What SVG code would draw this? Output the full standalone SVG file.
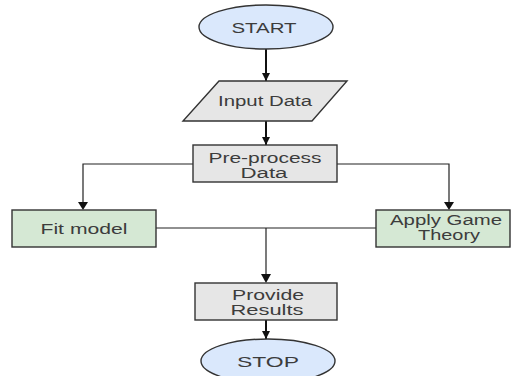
<svg xmlns="http://www.w3.org/2000/svg" width="512" height="376" viewBox="0 0 512 376">
  <defs>
    <marker id="arrow" viewBox="0 0 10 10" refX="10" refY="5" markerWidth="4.2" markerHeight="4.2" orient="auto" markerUnits="strokeWidth">
      <path d="M0,0 L10,5 L0,10 z" fill="#111"/>
    </marker>
    <style>
      .term { fill: #dae8fc; stroke: #333; stroke-width: 1.4; }
      .proc { fill: #e6e6e6; stroke: #333; stroke-width: 1.4; }
      .task { fill: #d5e8d4; stroke: #333; stroke-width: 1.4; }
      .label { font-family: "Liberation Sans", Arial, sans-serif; font-size: 14px; fill: #3c3c3c; text-anchor: middle; }
      .flow { fill: none; stroke: #111; stroke-width: 2; }
      .link { fill: none; stroke: #222; stroke-width: 1.2; }
    </style>
  </defs>

  <rect width="512" height="376" fill="#ffffff"/>

  <!-- connectors -->
  <g id="connectors">
    <line class="flow" x1="266" y1="49" x2="266" y2="81" marker-end="url(#arrow)"/>
    <line class="flow" x1="266" y1="121" x2="266" y2="145" marker-end="url(#arrow)"/>
    <polyline class="link" points="193,164 83,164 83,202"/>
    <path d="M78,202 L88,202 L83,210 z" fill="#111"/>
    <polyline class="link" points="337,164 449,164 449,202"/>
    <path d="M444,202 L454,202 L449,210 z" fill="#111"/>
    <line class="link" x1="156" y1="228" x2="376" y2="228"/>
    <line class="link" x1="266" y1="228" x2="266" y2="274"/>
    <path d="M261,274 L271,274 L266,283 z" fill="#111"/>
    <line class="flow" x1="266" y1="320" x2="266" y2="339" marker-end="url(#arrow)"/>
  </g>

  <!-- nodes (labels are drawn wide, stretched to fixed lengths) -->
  <g id="start">
    <ellipse class="term" cx="266" cy="27" rx="67" ry="22"/>
    <text class="label" x="264" y="33" textLength="65" lengthAdjust="spacingAndGlyphs">START</text>
  </g>

  <g id="input-data">
    <polygon class="proc" points="219,81 347,81 312,121 183,121"/>
    <text class="label" x="265" y="106" textLength="94" lengthAdjust="spacingAndGlyphs">Input Data</text>
  </g>

  <g id="preprocess">
    <rect class="proc" x="193" y="145" width="144" height="37"/>
    <text class="label" x="265" y="163" textLength="113" lengthAdjust="spacingAndGlyphs">Pre-process</text>
    <text class="label" x="264" y="178" textLength="47" lengthAdjust="spacingAndGlyphs">Data</text>
  </g>

  <g id="fit-model">
    <rect class="task" x="12" y="210" width="144" height="37"/>
    <text class="label" x="84" y="234" textLength="87" lengthAdjust="spacingAndGlyphs">Fit model</text>
  </g>

  <g id="game-theory">
    <rect class="task" x="376" y="210" width="134" height="37"/>
    <text class="label" x="446" y="225" textLength="112" lengthAdjust="spacingAndGlyphs">Apply Game</text>
    <text class="label" x="449" y="240" textLength="62" lengthAdjust="spacingAndGlyphs">Theory</text>
  </g>

  <g id="results">
    <rect class="proc" x="195" y="283" width="142" height="37"/>
    <text class="label" x="268" y="300" textLength="72" lengthAdjust="spacingAndGlyphs">Provide</text>
    <text class="label" x="267" y="315" textLength="73" lengthAdjust="spacingAndGlyphs">Results</text>
  </g>

  <g id="stop">
    <ellipse class="term" cx="268" cy="361" rx="67" ry="22"/>
    <text class="label" x="268" y="367" textLength="62" lengthAdjust="spacingAndGlyphs">STOP</text>
  </g>
</svg>
